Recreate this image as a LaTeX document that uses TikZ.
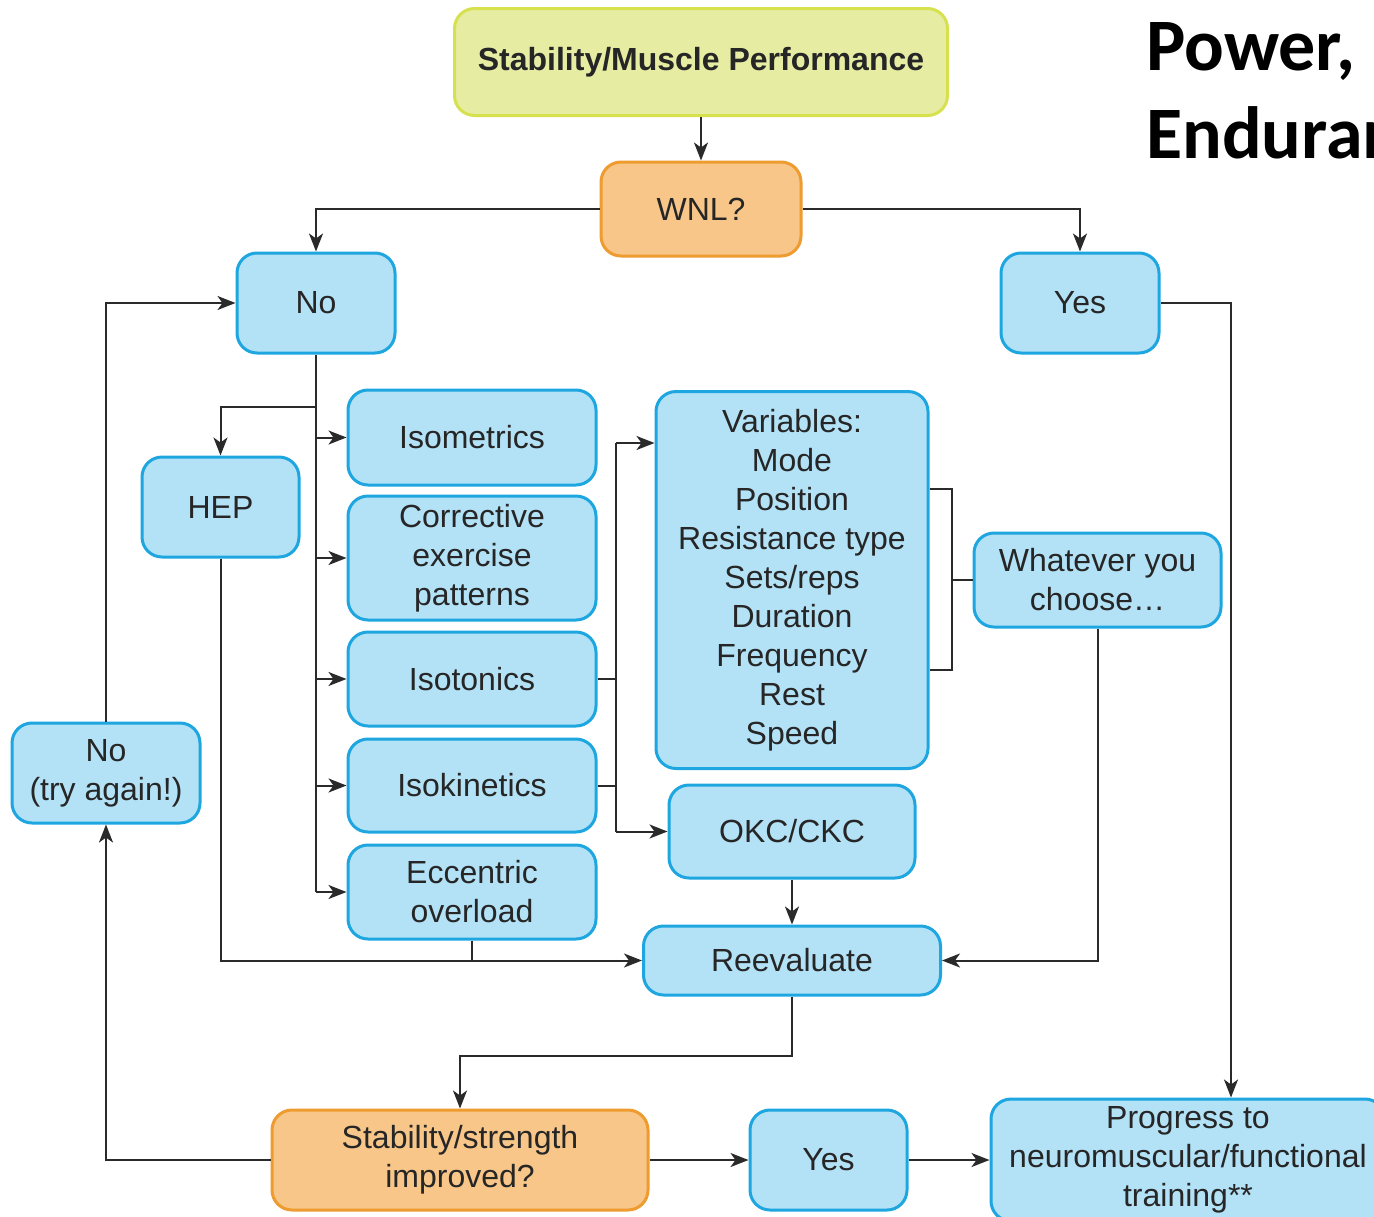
\documentclass[tikz,border=0pt]{standalone}
\usepackage{fontspec}
\setmainfont{Liberation Sans}
\newfontfamily\calib{Carlito}
\usetikzlibrary{arrows.meta}
\definecolor{bfill}{HTML}{B3E1F6}
\definecolor{bdraw}{HTML}{1EA6E0}
\definecolor{ofill}{HTML}{F7C688}
\definecolor{odraw}{HTML}{EE9B30}
\definecolor{yfill}{HTML}{E6EDA3}
\definecolor{ydraw}{HTML}{D7E14E}
\definecolor{lcol}{HTML}{2A2A2A}
\begin{document}
\begin{tikzpicture}[x=1pt,y=-1pt,
 box/.style={draw=bdraw, fill=bfill, line width=3pt, rounded corners=20pt, align=center, inner sep=0pt, font=\fontsize{32}{39}\selectfont, text=black!85},
 obox/.style={box, draw=odraw, fill=ofill},
 ybox/.style={box, draw=ydraw, fill=yfill, font=\bfseries\fontsize{32}{39}\selectfont},
 conn/.style={draw=lcol, line width=2pt},
 arr/.style={conn, -{Stealth[length=18pt,width=14pt,inset=5pt]}},
 bigt/.style={anchor=base west, inner sep=0pt, font=\calib\bfseries\fontsize{74}{88}\selectfont}]
\clip (0,0) rectangle (1374,1216);
\fill[white] (0,0) rectangle (1374,1216);
% nodes
\node[ybox, minimum width=493pt, minimum height=107pt] (top) at (701,62) {Stability/Muscle Performance};
\node[obox, minimum width=200pt, minimum height=94pt] (wnl) at (701,209) {WNL?};
\node[box, minimum width=158pt, minimum height=100pt] (no) at (316,303) {No};
\node[box, minimum width=158pt, minimum height=100pt] (yes) at (1080,303) {Yes};
\node[box, minimum width=248pt, minimum height=95pt] (isom) at (472,437.5) {Isometrics};
\node[box, minimum width=157pt, minimum height=100pt] (hep) at (220.5,507) {HEP};
\node[box, minimum width=248pt, minimum height=124pt] (corr) at (472,558) {Corrective\\exercise\\patterns};
\node[box, minimum width=248pt, minimum height=94pt] (isot) at (472,679) {Isotonics};
\node[box, minimum width=248pt, minimum height=93pt] (isok) at (472,785.5) {Isokinetics};
\node[box, minimum width=248pt, minimum height=94pt] (ecc) at (472,892) {Eccentric\\overload};
\node[box, minimum width=272pt, minimum height=377pt] (vars) at (792,580) {Variables:\\Mode\\Position\\Resistance type\\Sets/reps\\Duration\\Frequency\\Rest\\Speed};
\node[box, minimum width=247pt, minimum height=94pt] (what) at (1097.5,580) {Whatever you\\choose\dots};
\node[box, minimum width=246pt, minimum height=93pt] (okc) at (792,831.5) {OKC/CKC};
\node[box, minimum width=297pt, minimum height=69pt] (reev) at (792,960.5) {Reevaluate};
\node[box, minimum width=188pt, minimum height=100pt] (try) at (106,773) {No\\(try again!)};
\node[obox, minimum width=376pt, minimum height=100pt] (stab) at (460,1160) {Stability/strength\\improved?};
\node[box, minimum width=157pt, minimum height=100pt] (yes2) at (828.5,1160) {Yes};
\node[box, minimum width=394pt, minimum height=122pt] (prog) at (1188,1160) {Progress to\\neuromuscular/functional\\training**};
\node[bigt] (pw) at (1146,70) {Power,};
\node[bigt] (en) at (1146,158) {Endurance};
% helper coordinates
\coordinate (tr1) at (316,407);
\coordinate (vx) at (616,443);
\coordinate (b1) at (952,489);
\coordinate (b2) at (952,670);
\coordinate (rs) at (460,1056);
\coordinate (pr) at (1231,0);
% connectors
\draw[arr] (top) -- (wnl);
\draw[arr] (wnl.west) -| (no.north);
\draw[arr] (wnl.east) -| (yes.north);
\draw[conn] (no.south) -- (no.south |- ecc.west);
\draw[arr] (tr1) -| (hep.north);
\draw[arr] (no.south |- isom.west) -- (isom.west);
\draw[arr] (no.south |- corr.west) -- (corr.west);
\draw[arr] (no.south |- isot.west) -- (isot.west);
\draw[arr] (no.south |- isok.west) -- (isok.west);
\draw[arr] (no.south |- ecc.west) -- (ecc.west);
\draw[conn] (vx) -- (okc.west -| vx);
\draw[arr] (vx) -- (vx -| vars.west);
\draw[arr] (okc.west -| vx) -- (okc.west);
\draw[conn] (isot.east) -- (isot.east -| vx);
\draw[conn] (isok.east) -- (isok.east -| vx);
\draw[conn] (b1 -| vars.east) -- (b1) -- (b2) -- (b2 -| vars.east);
\draw[conn] (what.west -| b1) -- (what.west);
\draw[arr] (what.south) |- (reev.east);
\draw[arr] (okc) -- (reev);
\draw[arr] (hep.south) |- (reev.west);
\draw[conn] (ecc.south) -- (ecc.south |- reev.west);
\draw[arr] (reev.south) |- (rs) -- (stab.north);
\draw[arr] (stab.west) -| (try.south);
\draw[arr] (try.north) |- (no.west);
\draw[arr] (stab.east) -- (yes2.west);
\draw[arr] (yes2.east) -- (prog.west);
\draw[arr] (yes.east) -| (prog.north -| pr);
\end{tikzpicture}
\end{document}
